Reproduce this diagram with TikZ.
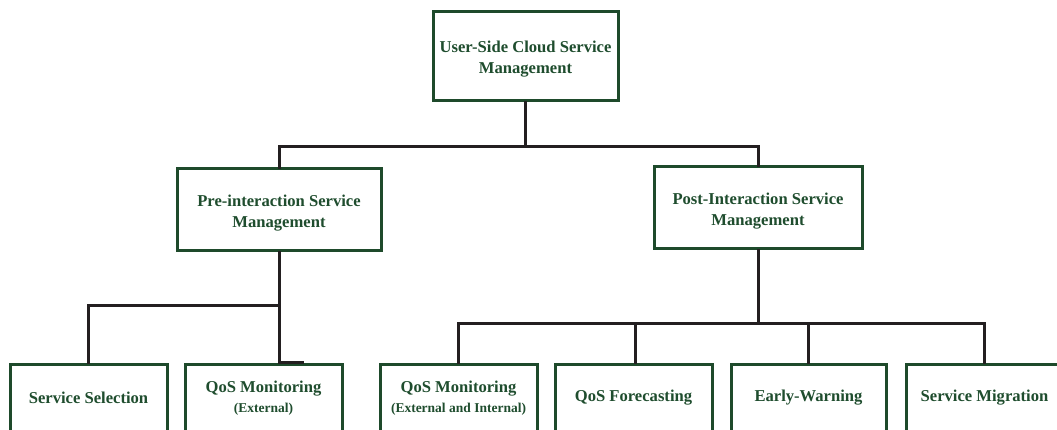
\documentclass[tikz,border=0pt]{standalone}
\usepackage{fontspec}
\setmainfont{Liberation Serif}
\definecolor{boxgreen}{HTML}{1E4A2B}
\definecolor{txtgreen}{HTML}{1F4D2E}
\definecolor{linkgray}{HTML}{231F20}
\newcommand{\notefont}{\fontsize{13.5}{15}\selectfont}
% two-line caption set a little below the box centre
\newcommand{\twoline}[2]{\raisebox{-2.5pt}[\height][\depth]{\begin{tabular}{@{}c@{}}#1\\#2\end{tabular}}}
\tikzset{
  unitbox/.style={draw=boxgreen, line width=3pt, fill=white, rectangle,
    inner sep=0pt, align=center, text=txtgreen, font=\bfseries\fontsize{16.6}{21}\selectfont},
  link/.style={draw=linkgray, line width=3pt, line cap=rect}
}
\begin{document}
\begin{tikzpicture}[x=1pt,y=-1pt]
\useasboundingbox (0,0) rectangle (1057,430);
\clip (0,0) rectangle (1057,430);

% bus levels
\coordinate (busA) at (0,147);
\coordinate (busL) at (0,305);
\coordinate (busR) at (0,323);

% boxes
\node[unitbox, minimum width=185pt, minimum height=89pt] (top) at (525.5,56.5)
  {\twoline{User-Side Cloud Service}{Management}};
\node[unitbox, minimum width=204pt, minimum height=82pt] (pre) at (279,210)
  {\twoline{Pre-interaction Service}{Management}};
\node[unitbox, minimum width=208pt, minimum height=82pt] (post) at (758,208)
  {\twoline{Post-Interaction Service}{Management}};

\node[unitbox, minimum width=157pt, minimum height=68pt] (ss) at (88.5,398)
  {Service Selection};
\node[unitbox, minimum width=157pt, minimum height=68pt] (qosext) at (263.5,398)
  {QoS Monitoring\\[-1pt]{\notefont (External)}};
\node[unitbox, minimum width=157pt, minimum height=68pt] (qosall) at (458.5,398)
  {QoS Monitoring\\[-1pt]{\notefont (External and Internal)}};
\node[unitbox, minimum width=157pt, minimum height=68pt] (fc) at (633.5,398)
  {QoS Forecasting};
\node[unitbox, minimum width=155pt, minimum height=68pt] (ew) at (808.5,398)
  {Early-Warning};
\node[unitbox, minimum width=157pt, minimum height=68pt] (mig) at (984.5,398)
  {Service Migration};

% level 1
\draw[link] (top.south) -- (top.south |- busA);
\draw[link] (pre.north) -- (pre.north |- busA) -- (post.north |- busA) -- (post.north);

% pre-interaction branch
\draw[link] (pre.south) -- (pre.south |- qosext.north) -- ++(23,0);
\draw[link] (ss.north) -- (ss.north |- busL) -- (pre.south |- busL);

% post-interaction branch
\draw[link] (post.south) -- (post.south |- busR);
\draw[link] (qosall.north) -- (qosall.north |- busR) -- (mig.north |- busR) -- (mig.north);
\draw[link] ([xshift=1.5pt]fc.north) -- ([xshift=1.5pt]fc.north |- busR);
\draw[link] (ew.north) -- (ew.north |- busR);
\end{tikzpicture}
\end{document}
